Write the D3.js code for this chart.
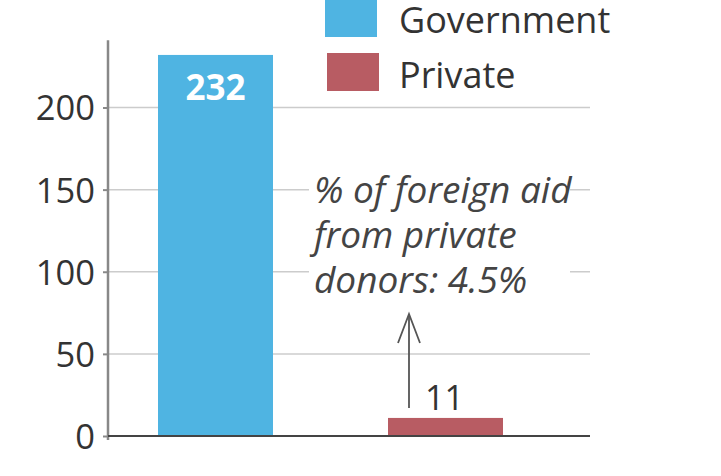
<!DOCTYPE html>
<html><head><meta charset="utf-8">
<script src="https://cdn.jsdelivr.net/npm/d3@7"></script>
<style>html,body{margin:0;padding:0;background:#fff;}svg{display:block;}</style>
</head><body>
<svg id="c" width="721" height="476"></svg>
<script>
const categories = ["Government", "Private"];
const values = [232, 11];
const colors = ["#4fb4e2", "#b85c63"];
const yTicks = [0, 50, 100, 150, 200];
const yMax = 241;
const annotationLines = ["% of foreign aid", "from private", "donors: 4.5%"];

const svg = d3.select("#c");
const font = "'Open Sans', sans-serif";

const y = d3.scaleLinear().domain([0, 200]).range([436, 107.5]);
const x = d3.scaleBand().domain(categories).range([100.5, 560.5]).paddingInner(0.5).paddingOuter(0.25);
const xLeft = 108, xRight = 590;

// gridlines
svg.append("g").selectAll("line").data(yTicks.filter(d => d > 0)).join("line")
  .attr("x1", xLeft).attr("x2", xRight)
  .attr("y1", d => y(d)).attr("y2", d => y(d))
  .attr("stroke", "#cccccc").attr("stroke-width", 1.5);

// white box behind annotation
svg.append("rect").attr("x", 309).attr("y", 168).attr("width", 261).attr("height", 132).attr("fill", "#fff");

// bars
svg.append("g").selectAll("rect").data(values).join("rect")
  .attr("x", (d, i) => x(categories[i]))
  .attr("width", x.bandwidth())
  .attr("y", d => y(d))
  .attr("height", d => y(0) - y(d))
  .attr("fill", (d, i) => colors[i]);

// y axis
const axis = d3.axisLeft(y).tickValues(yTicks).tickSize(5).tickPadding(8);
const ga = svg.append("g").attr("transform", `translate(${xLeft},0)`).call(axis);
ga.select(".domain").remove();
ga.selectAll(".tick line").attr("stroke", "#888").attr("stroke-width", 2);
ga.selectAll(".tick text").attr("font-family", font).attr("font-size", 34.5).attr("fill", "#333").attr("dy", "0.36em");
svg.append("line").attr("x1", xLeft).attr("x2", xLeft).attr("y1", y(yMax)).attr("y2", y(0) + 4)
  .attr("stroke", "#888").attr("stroke-width", 2.5);

// baseline
svg.append("line").attr("x1", xLeft).attr("x2", xRight).attr("y1", y(0)).attr("y2", y(0))
  .attr("stroke", "#444").attr("stroke-width", 2);

// value labels
svg.append("text").attr("x", x(categories[0]) + x.bandwidth() / 2).attr("y", y(values[0]) + 45)
  .attr("text-anchor", "middle").attr("font-family", font).attr("font-weight", "bold")
  .attr("font-size", 35).attr("fill", "#fff").text(values[0]);
svg.append("text").attr("x", x(categories[1]) + x.bandwidth() / 2 - 1).attr("y", y(values[1]) - 8)
  .attr("text-anchor", "middle").attr("font-family", font)
  .attr("font-size", 34).attr("fill", "#333").text(values[1]);

// arrow
const ax = 409;
svg.append("line").attr("x1", ax).attr("x2", ax).attr("y1", 408).attr("y2", 314)
  .attr("stroke", "#555").attr("stroke-width", 1.8);
svg.append("path").attr("d", `M${ax - 11},343 L${ax},314 L${ax + 11},343`)
  .attr("fill", "none").attr("stroke", "#555").attr("stroke-width", 1.8);

// annotation
const ann = svg.append("text").attr("font-family", font).attr("font-style", "italic")
  .attr("font-size", 37).attr("fill", "#444");
annotationLines.forEach((t, i) => ann.append("tspan").attr("x", 314).attr("y", 203 + i * 45).text(t));

// legend
const lg = svg.append("g");
categories.forEach((c, i) => {
  lg.append("rect").attr("x", 325 + i * 2).attr("y", i === 0 ? -1 : 53).attr("width", 52).attr("height", 38).attr("fill", colors[i]);
  lg.append("text").attr("x", 399).attr("y", 33 + i * 55).attr("font-family", font)
    .attr("font-size", 36).attr("fill", "#333").text(c);
});
</script>
</body></html>
